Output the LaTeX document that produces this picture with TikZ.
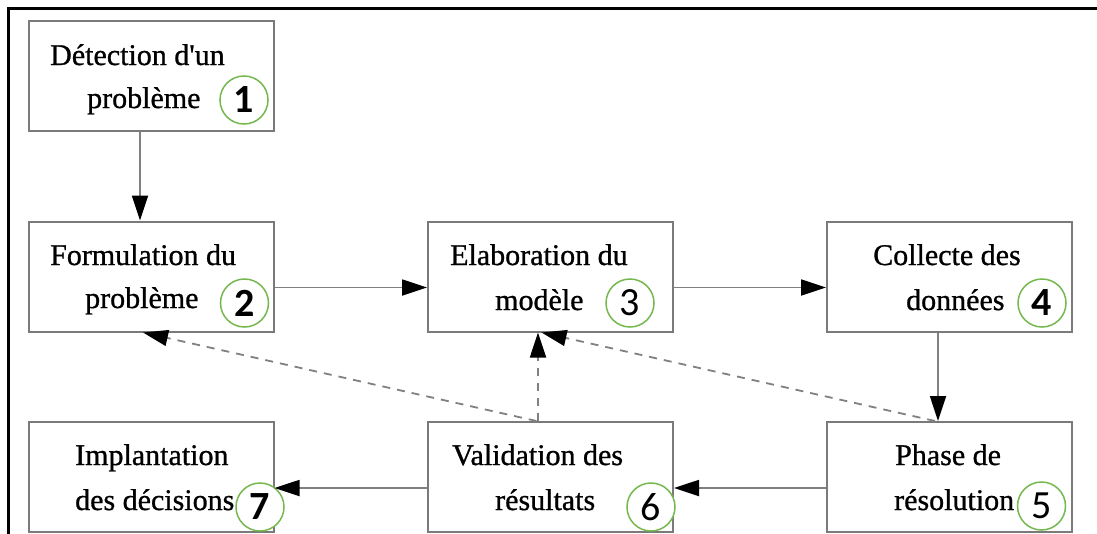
\documentclass[tikz,border=0pt]{standalone}
\usepackage{fontspec}
\setmainfont{Liberation Serif}[Ligatures=TeXOff, FakeBold=0.9]
\newfontfamily\numfont{Carlito}
\usetikzlibrary{arrows.meta,calc}

\definecolor{boxgrey}{HTML}{7A7A7A}
\definecolor{linegrey}{HTML}{808080}
\definecolor{stepgreen}{HTML}{74B84E}

\tikzset{
  stagebox/.style={draw=boxgrey, line width=2pt, fill=white, rectangle,
    minimum width=245pt, minimum height=110pt, inner sep=0pt},
  stagetext/.style={anchor=base west, inner sep=0pt,
    font=\fontsize{30}{43}\selectfont},
  stepnum/.style={draw=stepgreen, line width=1.5pt, fill=white, circle,
    minimum size=48pt, inner sep=0pt, font=\numfont\fontsize{40}{40}\selectfont},
  flow/.style={draw=linegrey, line width=1.8pt,
    -{Triangle[length=25pt,width=16pt,color=black]}},
  feedback/.style={flow, dash pattern=on 8pt off 7pt}
}

\begin{document}
\begin{tikzpicture}[x=1pt, y=-1pt]
  \useasboundingbox (0,0) rectangle (1097,533);

  % frame (top and left rules)
  \draw[line width=3pt, line cap=rect] (1100,8) -- (8,8) -- (8,540);

  % stage boxes
  \node[stagebox] (b1) at (151,76)    {};
  \node[stagebox] (b2) at (151,276.5) {};
  \node[stagebox] (b3) at (550.5,276.5) {};
  \node[stagebox] (b4) at (949.5,276.5) {};
  \node[stagebox] (b5) at (949.5,477) {};
  \node[stagebox] (b6) at (550.5,477) {};
  \node[stagebox] (b7) at (151,477)   {};

  % stage labels
  \node[stagetext] (l1a) at (50,65)   {Détection d'un};
  \node[stagetext] (l1b) at (87,108)  {problème};
  \node[stagetext] (l2a) at (50,265)  {Formulation du};
  \node[stagetext] (l2b) at (85,308)  {problème};
  \node[stagetext] (l3a) at (450,265) {Elaboration du};
  \node[stagetext] (l3b) at (495,310) {modèle};
  \node[stagetext] (l4a) at (873,265) {Collecte des};
  \node[stagetext] (l4b) at (906,310) {données};
  \node[stagetext] (l5a) at (895,465) {Phase de};
  \node[stagetext] (l5b) at (894,510) {résolution};
  \node[stagetext] (l6a) at (452,465) {Validation des};
  \node[stagetext] (l6b) at (495,510) {résultats};
  \node[stagetext] (l7a) at (75,465)  {Implantation};
  \node[stagetext] (l7b) at (75,510)  {des décisions};

  % step numbers
  \node[stepnum] (n1) at (244,100)  {\bfseries 1};
  \node[stepnum] (n2) at (244.5,303) {\bfseries 2};
  \node[stepnum] (n3) at (630,303)  {3};
  \node[stepnum] (n4) at (1042,303) {\bfseries 4};
  \node[stepnum] (n5) at (1041.5,506) {5};
  \node[stepnum] (n6) at (651,507)  {6};
  \node[stepnum] (n7) at (260,507)  {\bfseries 7};

  % main flow
  \draw[flow] ($(b1.south)+(-11,0)$) -- ($(b2.north)+(-11,0)$);
  \draw[flow] ($(b2.east)+(0,11)$) -- ($(b3.west)+(0,11)$);
  \draw[flow] ($(b3.east)+(0,11)$) -- ($(b4.west)+(0,11)$);
  \draw[flow] ($(b4.south)+(-11.5,0)$) -- ($(b5.north)+(-11.5,0)$);
  \draw[flow] ($(b5.west)+(0,11)$) -- ($(b6.east)+(0,11)$);
  \draw[flow] ($(b6.west)+(0,11)$) -- ($(b7.east)+(0,11)$);

  % feedback loops
  \draw[feedback] ($(b6.north)+(-12.5,0)$) -- ($(b3.south)+(-12.5,0)$);
  \draw[feedback] ($(b6.north)+(-14,0)$) -- ($(b2.south)+(-8,0)$);
  \draw[feedback] ($(b5.north)+(-14.5,0)$) -- ($(b3.south)+(-9,0)$);
\end{tikzpicture}
\end{document}
